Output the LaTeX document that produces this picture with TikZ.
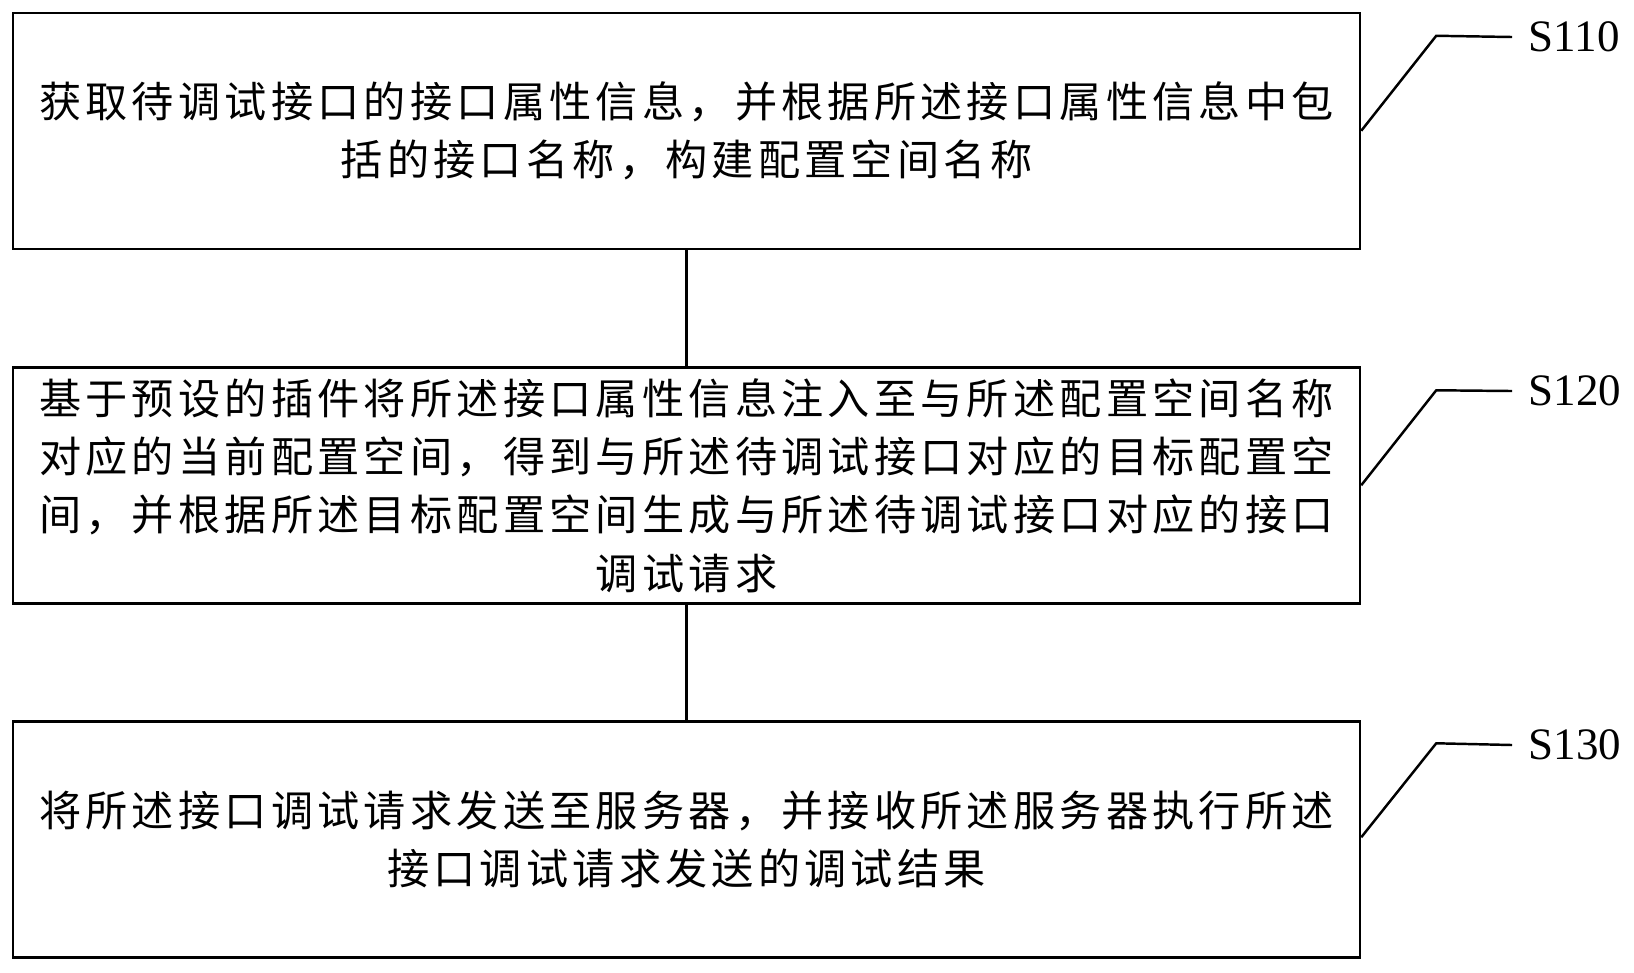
\documentclass[tikz,border=0pt]{standalone}
\usepackage{fontspec}
\setmainfont{Liberation Serif}
\newfontfamily\cjk[LetterSpace=10]{Noto Sans CJK SC}
\tikzset{
  stepbox/.style={draw, line width=0.7pt, rectangle, inner sep=0pt,
    minimum width=13.47cm, minimum height=2.36cm, align=center,
    font=\cjk\fontsize{12pt}{16.6pt}\selectfont},
  steptag/.style={anchor=west, inner xsep=0.16cm, inner ysep=0pt,
    font=\fontsize{12.8pt}{14pt}\selectfont},
  leader/.style={line width=0.7pt}
}
\begin{document}
\begin{tikzpicture}
  \useasboundingbox (0,0) rectangle (16.34,-9.72);
  % steps
  \node [stepbox] (s110) at (6.865,-1.31) {获取待调试接口的接口属性信息，并根据所述接口属性信息中包\\括的接口名称，构建配置空间名称};
  \node [stepbox] (s120) at (6.865,-4.855) {基于预设的插件将所述接口属性信息注入至与所述配置空间名称\\对应的当前配置空间，得到与所述待调试接口对应的目标配置空\\间，并根据所述目标配置空间生成与所述待调试接口对应的接口\\调试请求};
  \node [stepbox] (s130) at (6.865,-8.395) {将所述接口调试请求发送至服务器，并接收所述服务器执行所述\\接口调试请求发送的调试结果};
  \draw [line width=0.7pt] (s110) -- (s120);
  \draw [line width=0.7pt] (s120) -- (s130);
  % labels
  \node [steptag] (t110) at (15.12,-0.37) {S110};
  \node [steptag] (t120) at (15.12,-3.91) {S120};
  \node [steptag] (t130) at (15.12,-7.45) {S130};
  \coordinate (a110) at ([yshift=-1.19cm]s110.north east);
  \coordinate (a120) at ([yshift=-1.19cm]s120.north east);
  \coordinate (a130) at ([yshift=-1.17cm]s130.north east);
  \draw [leader] (a110) -- ++(0.75,0.95) -- (t110.west);
  \draw [leader] (a120) -- ++(0.75,0.95) -- (t120.west);
  \draw [leader] (a130) -- ++(0.75,0.94) -- (t130.west);
\end{tikzpicture}
\end{document}
